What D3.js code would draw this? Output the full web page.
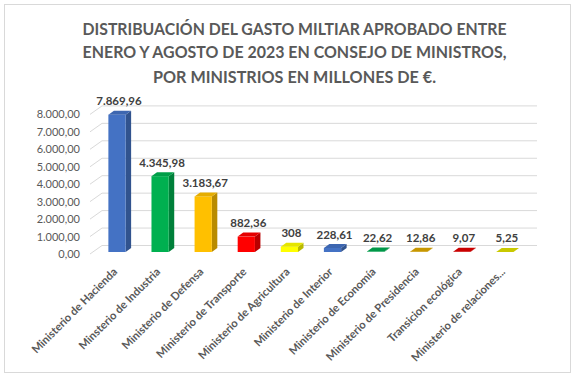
<!DOCTYPE html>
<html><head><meta charset="utf-8">
<script src="https://cdn.jsdelivr.net/npm/d3@7"></script>
<style>
html,body{margin:0;padding:0;background:#fff;}
svg{display:block;font-family:Lato,"Open Sans",sans-serif;}
</style></head>
<body><svg id="c" width="577" height="381"></svg>
<script>
const titleLines = ["DISTRIBUACIÓN DEL GASTO MILTIAR APROBADO ENTRE","ENERO Y AGOSTO DE 2023 EN CONSEJO DE MINISTROS,","POR MINISTRIOS EN MILLONES DE €."];
const categories = ["Ministerio de Hacienda","Minsterio de Industria","Ministerio de Defensa","Ministerio de Transporte","Ministerio de Agricultura","Ministerio de Interior","Ministerio de Economía","Ministerio de Presidencia","Transicion ecológica","Ministerio de relaciones..."];
const values = [7869.96, 4345.98, 3183.67, 882.36, 308, 228.61, 22.62, 12.86, 9.07, 5.25];
const valueLabels = ["7.869,96","4.345,98","3.183,67","882,36","308","228,61","22,62","12,86","9,07","5,25"];
const colors = ["#4472C4","#00B050","#FFC000","#FF0000","#FFFF00","#4472C4","#00A850","#DDA800","#E00000","#E0E000"];
const yTicks = [0,1000,2000,3000,4000,5000,6000,7000,8000];
const yTickLabels = ["0,00","1.000,00","2.000,00","3.000,00","4.000,00","5.000,00","6.000,00","7.000,00","8.000,00"];

const svg = d3.select("#c");
// border
svg.append("rect").attr("x",4.5).attr("y",4.5).attr("width",566).attr("height",368)
  .attr("fill","#fff").attr("stroke","#D9D9D9");

// title
const titleBase = [34.7, 58.3, 83];
const titleWidths = [424, 424, 283];
svg.append("g").selectAll("text").data(titleLines).join("text")
  .attr("x",294.5).attr("y",(d,i)=>titleBase[i])
  .attr("text-anchor","middle").attr("font-size",17.5).attr("font-weight","bold")
  .attr("fill","#595959")
  .attr("textLength",(d,i)=>titleWidths[i]).attr("lengthAdjust","spacingAndGlyphs")
  .text(d=>d);

// geometry
const frontBase = 254, barBase = 252, backBase = 245.5;
const wallDx = 12, barDx = 5.5, barDy = 4;
const h = d3.scaleLinear().domain([0,8000]).range([0,139.6]);
const x = d3.scaleBand().domain(categories).range([95.45,526.45]).paddingInner(0.6).paddingOuter(0.3);
const bw = x.bandwidth();

// gridlines
const grid = svg.append("g").attr("stroke","#D9D9D9").attr("stroke-width",1).attr("fill","none");
yTicks.forEach(v=>{
  const yf = frontBase - h(v), yb = backBase - h(v);
  grid.append("path").attr("d",`M90,${yf}L${90+wallDx},${yb}L537,${yb}`);
});

// y labels
svg.append("g").selectAll("text").data(yTicks).join("text")
  .attr("x",80).attr("y",d=>frontBase - h(d) + 4)
  .attr("text-anchor","end").attr("font-size",11).attr("fill","#595959")
  .text((d,i)=>yTickLabels[i]);

// bars
const bars = svg.append("g");
categories.forEach((c,i)=>{
  const x0 = x(c), top = barBase - h(values[i]);
  const col = d3.color(colors[i]);
  const g = bars.append("g");
  g.append("path").attr("d",`M${x0+bw},${top}L${x0+bw+barDx},${top-barDy}L${x0+bw+barDx},${barBase-barDy}L${x0+bw},${barBase}Z`)
    .attr("fill",col.darker(0.9));
  g.append("rect").attr("x",x0).attr("y",top).attr("width",bw).attr("height",barBase-top).attr("fill",col);
  g.append("path").attr("d",`M${x0},${top}L${x0+barDx},${top-barDy}L${x0+bw+barDx},${top-barDy}L${x0+bw},${top}Z`)
    .attr("fill",col.darker(0.3));
});

// value labels
svg.append("g").selectAll("text").data(categories).join("text")
  .attr("x",d=>x(d)+bw/2+2)
  .attr("y",(d,i)=>barBase - h(values[i]) - 9.5)
  .attr("text-anchor","middle").attr("font-size",11.5).attr("font-weight","bold").attr("fill","#404040")
  .text((d,i)=>valueLabels[i]);

// category labels
svg.append("g").selectAll("text").data(categories).join("text")
  .attr("transform",d=>`translate(${x(d)+bw/2+1},${272.5}) rotate(-45)`)
  .attr("text-anchor","end").attr("font-size",11.2).attr("font-weight","bold").attr("fill","#595959")
  .text(d=>d);
</script>
</body></html>
